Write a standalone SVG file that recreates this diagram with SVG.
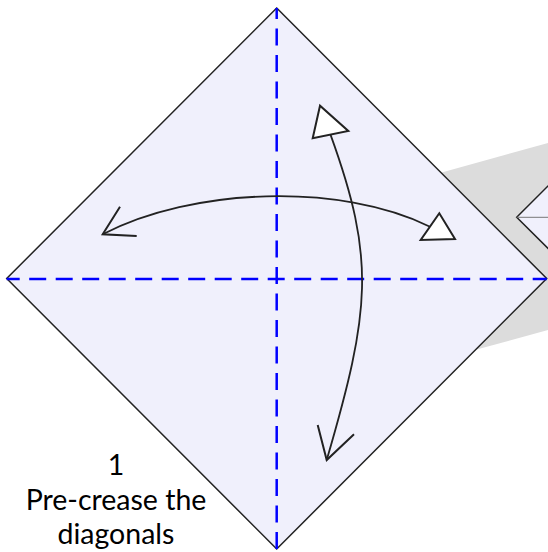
<svg xmlns="http://www.w3.org/2000/svg" width="548" height="552" viewBox="0 0 548 552">
  <style>
    .paper { fill: #f0f0fc; stroke: #222; stroke-width: 1.5; stroke-linejoin: miter; }
    .crease { fill: none; stroke: #0000ff; stroke-width: 2.5; stroke-dasharray: 17 9.5; }
    .arc { fill: none; stroke: #222; stroke-width: 1.8; }
    .head-open { fill: none; stroke: #222; stroke-width: 2; stroke-linejoin: miter; }
    .head-tri { fill: #ffffff; stroke: #222; stroke-width: 2; stroke-linejoin: miter; }
    .label { font-family: "Lato", "Noto Sans", sans-serif; font-size: 28.5px; fill: #000; text-anchor: middle; }
  </style>
  <g id="shadow">
    <polygon points="441.7,172.5 548,143 548,330 476.7,349.5 420,280" fill="#dcdcdc"/>
  </g>
  <g id="next-step">
    <polygon class="paper" points="516.7,217.3 600,134 683,217.3 600,300"/>
    <line x1="516.7" y1="217.3" x2="560" y2="217.3" stroke="#777" stroke-width="1"/>
  </g>
  <g id="square">
    <polygon class="paper" points="276.7,8 546.7,278.5 276.7,549 6.7,278.5"/>
  </g>
  <g id="creases">
    <line class="crease" x1="6.7" y1="279" x2="546.7" y2="279" stroke-dashoffset="4"/>
    <line class="crease" x1="276.7" y1="8" x2="276.7" y2="549" stroke-dashoffset="6"/>
  </g>
  <g id="connectors">
    <path class="arc" d="M102.7,234.3 C192.7,187.5 340,182.5 430,226.7"/>
    <polyline class="head-open" points="120,206.7 102.7,234.3 136.7,236"/>
    <polygon class="head-tri" points="455,239 439.3,213.3 420.7,240"/>
    <path class="arc" d="M330.5,134.6 C375.8,259.6 370.5,310 326.7,460"/>
    <polyline class="head-open" points="317.7,425 326.7,460 354,434.3"/>
    <polygon class="head-tri" points="320,105.7 312.7,138.3 348.3,131"/>
  </g>
  <g id="caption">
    <text class="label" x="116" y="475">1</text>
    <text class="label" x="116" y="509.5">Pre-crease the</text>
    <text class="label" x="116" y="544">diagonals</text>
  </g>
</svg>
